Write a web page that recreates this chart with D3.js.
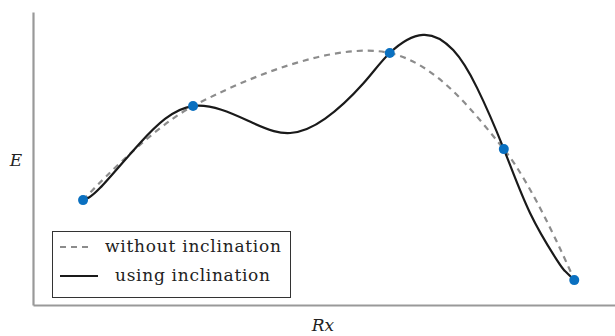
<!DOCTYPE html>
<html><head><meta charset="utf-8">
<script src="https://cdn.jsdelivr.net/npm/d3@7"></script>
<style>body{margin:0;background:#fff}svg{display:block}</style>
</head><body>
<svg id="c" width="615" height="336"></svg>
<script>
// Data (arbitrary units: Rx in [0,10], E in [0,10])
const pointRx = [0.86, 2.75, 6.13, 8.09, 9.30];
const pointE  = [3.58, 6.79, 8.60, 5.32, 0.85];
// without inclination (dashed): passes through the points
const dashRx = [0.86, 2.75, 6.13, 8.09, 9.30];
const dashE  = [3.58, 6.79, 8.60, 5.32, 0.85];
// using inclination (solid) samples
const solidRx = [0.86, 1.15, 1.84, 2.75, 3.78, 4.42, 5.02, 5.67, 6.13, 6.70, 7.22, 7.63, 8.09, 8.54, 9.00, 9.14, 9.30];
const solidE  = [3.58, 3.99, 5.53, 6.79, 6.21, 5.87, 6.36, 7.55, 8.60, 9.22, 8.70, 7.41, 5.32, 3.14, 1.54, 1.16, 0.85];
const legendLabels = ["without inclination", "using inclination"];

const svg = d3.select("#c");
const x = d3.scaleLinear().domain([0, 10]).range([33, 615]);
const y = d3.scaleLinear().domain([0, 10]).range([305, 12]);

const axisColor = "#999";
svg.append("g").attr("transform", "translate(0,305)")
  .call(d3.axisBottom(x).tickValues([]).tickSizeOuter(0))
  .call(g => g.select(".domain").attr("stroke", axisColor).attr("stroke-width", 2.2));
svg.append("g").attr("transform", "translate(33,0)")
  .call(d3.axisLeft(y).tickValues([]).tickSizeOuter(0))
  .call(g => g.select(".domain").attr("stroke", axisColor).attr("stroke-width", 2.2));

const fam = "DejaVu Serif";
svg.append("text").attr("x", 16).attr("y", 166).attr("text-anchor", "middle")
  .attr("font-family", fam).attr("font-style", "italic").attr("font-size", 17).attr("fill", "#222").text("E");
svg.append("text").attr("x", 323).attr("y", 331).attr("text-anchor", "middle")
  .attr("font-family", fam).attr("font-style", "italic").attr("font-size", 17).attr("fill", "#222").text("Rx");

const dashLine = d3.line().x(d => x(d[0])).y(d => y(d[1])).curve(d3.curveCatmullRom.alpha(0.5));
const solidLine = d3.line().x(d => x(d[0])).y(d => y(d[1])).curve(d3.curveNatural);

svg.append("path").datum(d3.zip(dashRx, dashE)).attr("d", dashLine)
  .attr("fill", "none").attr("stroke", "#8c8c8c").attr("stroke-width", 2.2).attr("stroke-dasharray", "6,5");
svg.append("path").datum(d3.zip(solidRx, solidE)).attr("d", solidLine)
  .attr("fill", "none").attr("stroke", "#1a1a1a").attr("stroke-width", 2.2);

svg.selectAll("circle.pt").data(d3.zip(pointRx, pointE)).join("circle")
  .attr("class", "pt").attr("cx", d => x(d[0])).attr("cy", d => y(d[1])).attr("r", 5)
  .attr("fill", "#0a70c0");

const lg = svg.append("g");
lg.append("rect").attr("x", 52.5).attr("y", 231.5).attr("width", 238).attr("height", 66)
  .attr("fill", "#fff").attr("stroke", "#333").attr("stroke-width", 1);
lg.append("line").attr("x1", 60).attr("x2", 93).attr("y1", 247).attr("y2", 247)
  .attr("stroke", "#8c8c8c").attr("stroke-width", 2.2).attr("stroke-dasharray", "6,5");
lg.append("line").attr("x1", 60).attr("x2", 98).attr("y1", 276).attr("y2", 276)
  .attr("stroke", "#1a1a1a").attr("stroke-width", 2.2);
lg.append("text").attr("x", 105).attr("y", 252).attr("font-family", fam).attr("font-size", 17)
  .attr("textLength", 176).attr("lengthAdjust", "spacing")
  .attr("fill", "#222").text(legendLabels[0]);
lg.append("text").attr("x", 115).attr("y", 281).attr("font-family", fam).attr("font-size", 17)
  .attr("textLength", 155).attr("lengthAdjust", "spacing")
  .attr("fill", "#222").text(legendLabels[1]);
</script>
</body></html>
